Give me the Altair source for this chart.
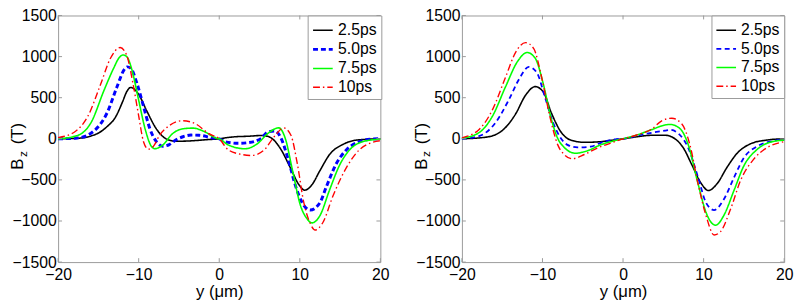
import altair as alt
import pandas as pd

SERIES = ["2.5ps", "5.0ps", "7.5ps", "10ps"]
COLORS = ["#000000", "#0000ff", "#00ff00", "#ff0000"]
X_TICKS = [-20, -10, 0, 10, 20]
Y_TICKS = [-1500, -1000, -500, 0, 500, 1000, 1500]

# ---------------- left panel ----------------
L_X_25 = [-20, -17, -15.9, -14.9, -13.9, -12.9, -12.0, -11.5, -11.0, -10.5, -10.0, -9.0, -7.8, -6.6, -5.4, -3.5, -1.5, 0,
          1.0, 2.0, 3.6, 5.2, 6.0, 6.6, 7.6, 8.9, 9.9, 10.6, 11.0, 11.5, 12.5, 13.7, 15.4, 17.0, 20]
L_B_25 = [0, 10, 35, 75, 150, 260, 450, 570, 625, 600, 540, 340, 120, 0, -30, -25, -10, 0,
          15, 25, 31, 40, 30, 0, -120, -367, -560, -625, -610, -560, -387, -191, -66, -16, 0]

L_X_50 = [-20, -17.6, -15.5, -13.9, -12.7, -11.8, -11.4, -11.0, -10.2, -9.4, -8.6, -7.8, -7.0, -6.2, -5.4, -4.5, -3.5, -2.5, -0.9, 0,
          0.7, 2.4, 3.6, 5.2, 6.0, 6.9, 7.6, 8.5, 9.5, 10.3, 11.3, 12.5, 13.3, 14.5, 15.8, 17.4, 19.0, 20]
L_B_50 = [0, 10, 100, 320, 630, 840, 875, 860, 670, 395, 120, -35, -90, -70, -15, 25, 45, 43, 12, 0,
          -35, -55, -47, 4, 82, 95, 23, -230, -582, -777, -867, -777, -582, -308, -133, -35, -4, 0]

L_X_75 = [-20, -17.6, -15.9, -14.3, -13.1, -12.4, -11.9, -11.4, -10.9, -10.0, -9.2, -8.4, -8.0, -7.0, -5.8, -4.6, -3.3, -1.7, -0.5, 0,
          1.1, 3.2, 4.8, 6.0, 7.4, 8.2, 9.1, 10.1, 10.9, 11.5, 12.5, 13.7, 15.0, 16.2, 17.8, 20]
L_B_75 = [0, 40, 200, 590, 860, 990, 1020, 990, 860, 470, 120, -95, -120, -75, 62, 120, 130, 80, 12, 0,
          -74, -121, -55, 62, 133, 4, -387, -816, -973, -1023, -934, -621, -308, -133, -35, -4]

L_X_10 = [-20, -18, -16.3, -14.7, -13.5, -12.3, -11.5, -10.7, -10.0, -9.4, -8.8, -8.2, -7.4, -6.2, -4.6, -2.9, -1.3, 0,
          1.1, 2.8, 4.0, 5.6, 6.8, 8.0, 8.9, 9.7, 10.5, 11.3, 11.9, 12.9, 14.1, 15.8, 17.4, 19.0, 20]
L_B_10 = [15, 80, 275, 670, 980, 1110, 1020, 670, 280, -35, -125, -95, 43, 160, 220, 180, 62, 0,
          -133, -191, -203, -133, 23, 133, 43, -308, -777, -1031, -1109, -1012, -699, -348, -133, -43, -23]

# ---------------- right panel ----------------
R_X_25 = [-20, -17, -15, -13.35, -12.1, -10.9, -9.9, -8.9, -7.7, -6.5, -4.8, -2.8, -1.2, 0,
          1.6, 3.6, 5.2, 6.5, 7.5, 8.5, 9.7, 10.6, 11.7, 12.9, 14.2, 15.8, 17.8, 20]
R_B_25 = [0, 20, 100, 300, 530, 635, 570, 316, 82, -15, -43, -35, -15, 0,
          23, 43, 43, -4, -113, -308, -543, -629, -543, -348, -172, -62, -16, 0]

R_X_50 = [-20, -17.8, -15.8, -14.2, -12.9, -11.7, -10.7, -9.7, -8.7, -7.7, -6.9, -5.65, -4.0, -2.4, -0.8, 0,
          1.6, 3.6, 5.2, 5.85, 6.9, 8.1, 9.3, 10.3, 11.3, 12.5, 13.8, 15.0, 16.6, 18.6, 20]
R_B_50 = [0, 35, 200, 470, 727, 875, 805, 510, 200, 4, -74, -105, -94, -35, -4, 0,
          35, 74, 100, 109, 62, -113, -465, -777, -867, -738, -465, -230, -94, -27, -10]

R_X_75 = [-20, -17.8, -16.2, -14.6, -13.1, -11.9, -10.9, -9.9, -8.9, -8.1, -7.3, -5.9, -4.4, -2.8, -1.2, 0,
          1.6, 3.6, 5.2, 5.85, 7.1, 8.1, 9.3, 10.3, 10.9, 11.5, 12.5, 13.8, 15.0, 16.6, 18.2, 20]
R_B_75 = [5, 80, 277, 630, 940, 1050, 980, 668, 238, 4, -105, -176, -145, -74, -27, 0,
          43, 113, 168, 175, 121, -74, -543, -895, -1012, -1051, -934, -621, -328, -133, -43, -16]

R_X_10 = [-20, -17.8, -16.2, -14.6, -13.3, -12.1, -11.1, -10.1, -9.1, -8.1, -7.3, -6.3, -4.8, -3.2, -1.6, 0,
          1.6, 3.6, 4.8, 6.05, 7.3, 8.3, 9.3, 10.3, 11.3, 12.1, 13.35, 14.6, 16.2, 17.8, 20]
R_B_10 = [12, 120, 355, 746, 1058, 1170, 1100, 746, 277, -74, -191, -242, -191, -113, -55, 0,
          43, 121, 219, 250, 180, -74, -543, -934, -1170, -1129, -855, -504, -250, -113, -35]

W = 328
H = 251
FONT = "Liberation Sans"


def frame(xs_list, bs_list, dash_blue, width_blue):
    rows = []
    for name, xs, bs in zip(SERIES, xs_list, bs_list):
        for i, (x, b) in enumerate(zip(xs, bs)):
            rows.append({"y": x, "B": b, "series": name, "order": i})
    df = pd.DataFrame(rows)

    xscale = alt.Scale(domain=[-20, 20], nice=False, zero=False)
    yscale = alt.Scale(domain=[-1500, 1500], nice=False, zero=False)
    xaxis = alt.Axis(values=X_TICKS, format="d", title="y (μm)", grid=False, domain=False, ticks=False,
                     labelFlush=False, labelPadding=5, titlePadding=1)
    yaxis = alt.Axis(values=Y_TICKS, format="d", title=None, grid=False, domain=False, ticks=False,
                     labelFlush=False, labelPadding=2)

    lines = alt.Chart(df).mark_line(interpolate="monotone", strokeCap="butt").encode(
        x=alt.X("y:Q", scale=xscale, axis=xaxis),
        y=alt.Y("B:Q", scale=yscale, axis=yaxis),
        color=alt.Color("series:N", scale=alt.Scale(domain=SERIES, range=COLORS),
                        sort=SERIES, title=None,
                        legend=alt.Legend(orient="none", legendX=W - 74, legendY=0)),
        strokeDash=alt.StrokeDash("series:N", sort=SERIES, title=None,
                                  scale=alt.Scale(type="ordinal", domain=SERIES,
                                                  range=[[1, 0], dash_blue, [1, 0], [7, 3, 1.5, 3]])),
        strokeWidth=alt.StrokeWidth("series:N", sort=SERIES, title=None,
                                    scale=alt.Scale(type="ordinal", domain=SERIES,
                                                    range=[1.6, width_blue, 1.6, 1.4])),
        order="order:Q",
    )

    xt = pd.DataFrame({"y": X_TICKS})
    yt = pd.DataFrame({"B": Y_TICKS})
    tick_style = dict(color="#9a9a9a", strokeWidth=1)
    xb = alt.Chart(xt).mark_rule(**tick_style).encode(
        x=alt.X("y:Q", scale=xscale, axis=xaxis), y=alt.value(H), y2=alt.value(H - 4))
    xtp = alt.Chart(xt).mark_rule(**tick_style).encode(
        x=alt.X("y:Q", scale=xscale, axis=xaxis), y=alt.value(0), y2=alt.value(4))
    yl = alt.Chart(yt).mark_rule(**tick_style).encode(
        y=alt.Y("B:Q", scale=yscale, axis=yaxis), x=alt.value(0), x2=alt.value(4))
    yr = alt.Chart(yt).mark_rule(**tick_style).encode(
        y=alt.Y("B:Q", scale=yscale, axis=yaxis), x=alt.value(W), x2=alt.value(W - 4))

    tB = alt.Chart(pd.DataFrame({"t": ["B"]})).mark_text(
        angle=270, align="left", baseline="alphabetic", font=FONT, fontSize=17, color="black"
    ).encode(x=alt.value(-36), y=alt.value(157), text="t:N")
    tz = alt.Chart(pd.DataFrame({"t": ["z"]})).mark_text(
        angle=270, align="left", baseline="alphabetic", font=FONT, fontSize=12, color="black"
    ).encode(x=alt.value(-32), y=alt.value(144), text="t:N")
    tT = alt.Chart(pd.DataFrame({"t": ["(T)"]})).mark_text(
        angle=270, align="left", baseline="alphabetic", font=FONT, fontSize=17, color="black"
    ).encode(x=alt.value(-36), y=alt.value(131), text="t:N")

    return alt.layer(lines, xb, xtp, yl, yr, tB, tz, tT).properties(width=W, height=H)


left = frame([L_X_25, L_X_50, L_X_75, L_X_10], [L_B_25, L_B_50, L_B_75, L_B_10], [5, 3], 3.0)
right = frame([R_X_25, R_X_50, R_X_75, R_X_10], [R_B_25, R_B_50, R_B_75, R_B_10], [5, 3.5], 1.8)

chart = alt.hconcat(left, right, spacing=22).resolve_scale(
    color="independent", strokeDash="independent", strokeWidth="independent"
).resolve_legend(color="independent", strokeDash="independent", strokeWidth="independent").properties(
    padding={"left": 0, "top": -4, "right": 0, "bottom": 0}
).configure_view(stroke="#9a9a9a", strokeWidth=1).configure_axis(
    labelFont=FONT, labelFontSize=16, labelColor="black", titleFont=FONT, titleFontSize=17,
    titleColor="black", titleFontWeight="normal"
).configure_legend(
    symbolType="stroke", symbolSize=400, symbolStrokeWidth=1.6, labelFont=FONT, labelFontSize=16,
    labelColor="black", padding=4, strokeColor="#9a9a9a", fillColor="white", rowPadding=0,
    labelOffset=4, cornerRadius=0
)

chart.save("out.html", embed_options={"renderer": "svg", "actions": False})
